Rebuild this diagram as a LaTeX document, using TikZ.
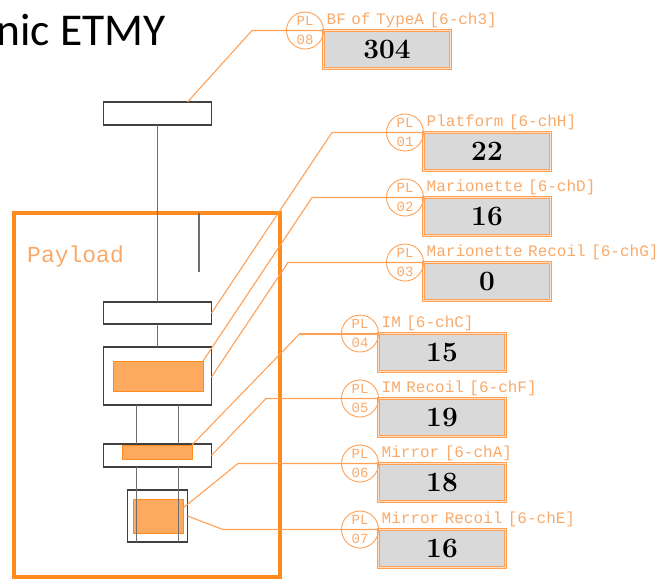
\documentclass[tikz,border=0pt]{standalone}
\usepackage{fontspec}
\newfontfamily\plfont{Liberation Mono}
\newfontfamily\titlefont{Carlito}
\usetikzlibrary{positioning}
\definecolor{plorange}{HTML}{FF8A1E}
\definecolor{plleader}{HTML}{FFA055}
\definecolor{pltext}{HTML}{F9AA6A}
\definecolor{plhatch}{HTML}{FDA95E}
\definecolor{plgray}{HTML}{D9D9D9}
\definecolor{plwire}{HTML}{6E6E6E}
\newlength{\ValueWidth}
\newlength{\ValueHeight}
\newlength{\PlOffset}
\setlength{\ValueWidth}{127pt}
\setlength{\ValueHeight}{38pt}
\setlength{\PlOffset}{18.5pt}
\tikzset{
  mass box/.style={draw=black!75, line width=1.2pt, fill=white, minimum width=108pt, inner sep=0pt, outer sep=0pt},
  hatch box/.style={draw=plorange, line width=0.9pt, fill=plhatch, inner sep=0pt, outer sep=0pt},
  wire/.style={draw=plwire, line width=1.2pt},
  leader/.style={draw=plleader, line width=1.1pt},
  value box/.style={draw=plleader, line width=1pt, double=plleader!35, double distance=0.8pt, fill=plgray, minimum width=\ValueWidth, minimum height=\ValueHeight, inner sep=0pt, outer sep=0pt, anchor=north west, font=\fontsize{28}{28}\selectfont\bfseries},
  pl circle/.style={draw=plleader, line width=0.9pt, circle, minimum size=37pt, inner sep=0pt},
  pl text/.style={text=pltext, inner sep=0pt, font=\plfont\fontsize{14}{14}\selectfont},
  name text/.style={text=pltext, inner sep=0pt, anchor=base west, font=\plfont\fontsize{16}{16}\selectfont}
}
\begin{document}
\begin{tikzpicture}[x=1pt, y=-1pt]
  \useasboundingbox (0,0) rectangle (664,584);

  \node[anchor=base east, inner sep=0pt, font=\titlefont\fontsize{45.5}{45.5}\selectfont] (title) at (166,45) {nic ETMY};

  \node[draw=plorange, line width=3.2pt, minimum width=266pt, minimum height=364pt, inner sep=0pt, outer sep=0pt] (payload) at (147,395) {};
  \node[text=pltext, inner sep=0pt, anchor=base west, font=\plfont\fontsize{23}{23}\selectfont] (payloadname) at (27,262) {Payload};

  % suspension chain
  \node[mass box, minimum height=23pt] (topmass) at (157.5,113.5) {};
  \node[mass box, minimum height=22pt] (platform) at (157.5,313) {};
  \node[mass box, minimum height=58pt] (marionette) at (157.5,376) {};
  \node[mass box, minimum height=23pt] (imass) at (157.5,455.5) {};
  \node[mass box, minimum width=60pt, minimum height=52pt] (mirror) at (157.5,516) {};

  \node[hatch box, minimum width=90pt, minimum height=30pt] (marionettecoil) at (158,376) {};
  \node[hatch box, minimum width=70pt, minimum height=14pt] (imcoil) at (157,452) {};
  \node[hatch box, minimum width=50pt, minimum height=34pt] (mirrorcoil) at (158,516) {};

  \coordinate (stoptop) at (199,213);
  \coordinate (stopend) at (199,272);

  \draw[wire] (topmass.south) -- (platform.north);
  \draw[wire] (platform.south) -- (marionette.north);
  \draw[wire] (stoptop) -- (stopend);
  \foreach \side in {-21,21} {
    \draw[wire] ([xshift=\side pt]marionette.south) -- ([xshift=\side pt]imass.north);
    \draw[wire] ([xshift=\side pt]imass.south) -- ([xshift=\side pt]mirror.south);
  }

  % readout panels
  \foreach \plid/\boxx/\liney/\bendx/\partname/\reading in {
    08/323.5/30.5/252/BF of TypeA [6-ch3]/304,
    01/423.5/132.5/332/Platform [6-chH]/22,
    02/423.5/197.5/312/Marionette [6-chD]/16,
    03/423.5/262.5/288/Marionette Recoil [6-chG]/0,
    04/378.5/333.5/300/IM [6-chC]/15,
    05/378.5/398.5/266/IM Recoil [6-chF]/19,
    06/378.5/463.5/238/Mirror [6-chA]/18,
    07/378.5/529.5/223/Mirror Recoil [6-chE]/16} {
    \node[value box] (val\plid) at (\boxx,\liney) {\reading};
    \node[name text] (name\plid) at ([xshift=3pt,yshift=6pt]val\plid.north west) {\spaceskip=5.5pt \partname};
    \node[pl circle] (pl\plid) at ([xshift=-\PlOffset]val\plid.north west) {};
    \node[pl text] (pltop\plid) at ([yshift=10pt]pl\plid.center) {PL};
    \node[pl text] (plnum\plid) at ([yshift=-9pt]pl\plid.center) {\plid};
    \coordinate (bend\plid) at (\bendx,\liney);
  }

  \draw[leader] ([xshift=30pt]topmass.north) -- (bend08) -- (val08.north west);
  \draw[leader] (platform.east) -- (bend01) -- (val01.north west);
  \draw[leader] (marionettecoil.north east) -- (bend02) -- (val02.north west);
  \draw[leader] ([yshift=-1pt]marionette.east) -- (bend03) -- (val03.north west);
  \draw[leader] (imcoil.north east) -- (bend04);
  \draw[leader, line width=2pt] (bend04) -- (val04.north west);
  \draw[leader] (imass.east) -- (bend05) -- (val05.north west);
  \draw[leader] ([yshift=8pt]mirrorcoil.east) -- (bend06) -- (val06.north west);
  \draw[leader] (mirror.east) -- (bend07) -- (val07.north west);
\end{tikzpicture}
\end{document}
